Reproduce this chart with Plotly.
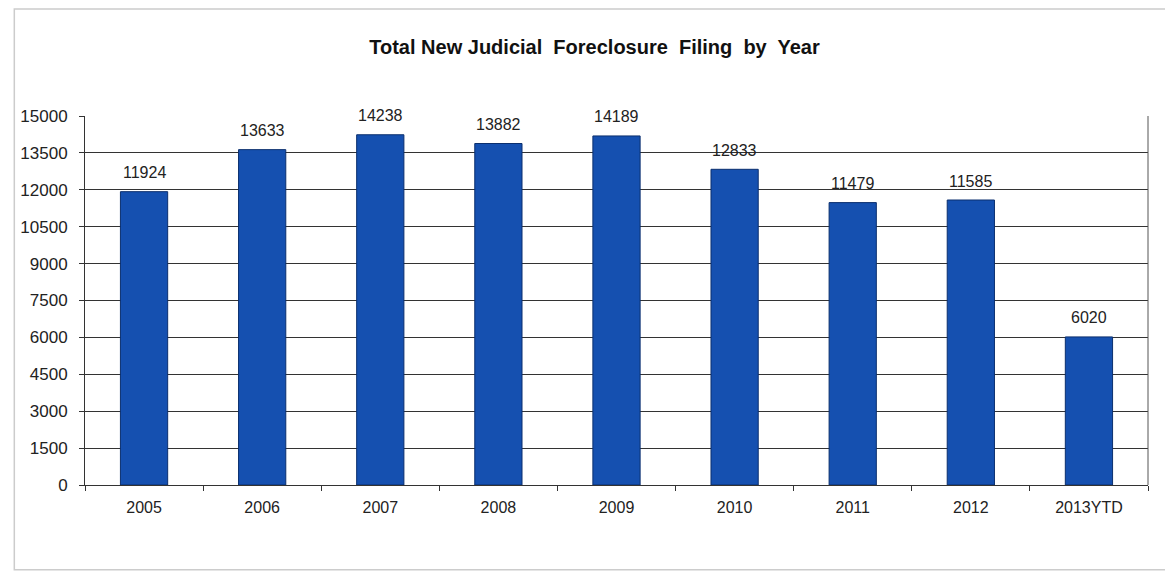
# Total New Judicial Foreclosure Filing by Year - bar chart

import plotly.graph_objects as go

years = ['2005', '2006', '2007', '2008', '2009', '2010', '2011', '2012', '2013YTD']
filings = [11924, 13633, 14238, 13882, 14189, 12833, 11479, 11585, 6020]
y_ticks = [0, 1500, 3000, 4500, 6000, 7500, 9000, 10500, 12000, 13500, 15000]

FONT = 'Arial, Liberation Sans, sans-serif'

fig = go.Figure(go.Bar(
    x=years,
    y=filings,
    width=0.4,
    marker=dict(color='#1550B0', line=dict(color='#0B2F6E', width=1)),
    cliponaxis=False,
))

# value labels floating above each bar (category index, since the
# year strings look numeric to plotly)
for i, v in enumerate(filings):
    fig.add_annotation(x=i, y=v, text=str(v), showarrow=False,
                       yanchor='middle', yshift=19,
                       font=dict(family=FONT, size=16, color='#222'))

fig.update_layout(
    title=dict(text='<b>Total New Judicial  Foreclosure  Filing  by  Year</b>',
               x=0.5, xanchor='center', y=0.932, yanchor='middle',
               font=dict(family=FONT, size=20, color='#111')),
    width=1173,
    height=572,
    margin=dict(l=73, r=33, t=108, b=95),
    paper_bgcolor='white',
    plot_bgcolor='white',
    font=dict(family=FONT, size=16, color='#222'),
    showlegend=False,
    xaxis=dict(
        type='category',
        tickson='boundaries',
        ticks='outside',
        ticklen=5,
        tickcolor='#333',
        showline=True,
        linecolor='#333',
        showgrid=False,
        ticklabelstandoff=8,
        tickfont=dict(size=16),
    ),
    yaxis=dict(
        range=[0, 15000],
        tickvals=y_ticks,
        ticktext=[str(v) for v in y_ticks],
        ticks='outside',
        ticklen=5,
        tickcolor='#333',
        showline=True,
        linecolor='#333',
        showgrid=True,
        gridcolor='#333',
        gridwidth=1,
        zeroline=False,
        ticklabelstandoff=8,
        tickfont=dict(size=17),
    ),
    shapes=[
        # right border of plot area
        dict(type='line', xref='paper', yref='paper', x0=1, x1=1, y0=0, y1=1,
             line=dict(color='#555', width=1)),
        # outer chart frame
        dict(type='rect', xref='paper', yref='paper',
             x0=-0.0665, x1=1.06, y0=-0.23, y1=1.29,
             line=dict(color='#cccccc', width=1.5)),
    ],
)

fig.write_html('out.html')
